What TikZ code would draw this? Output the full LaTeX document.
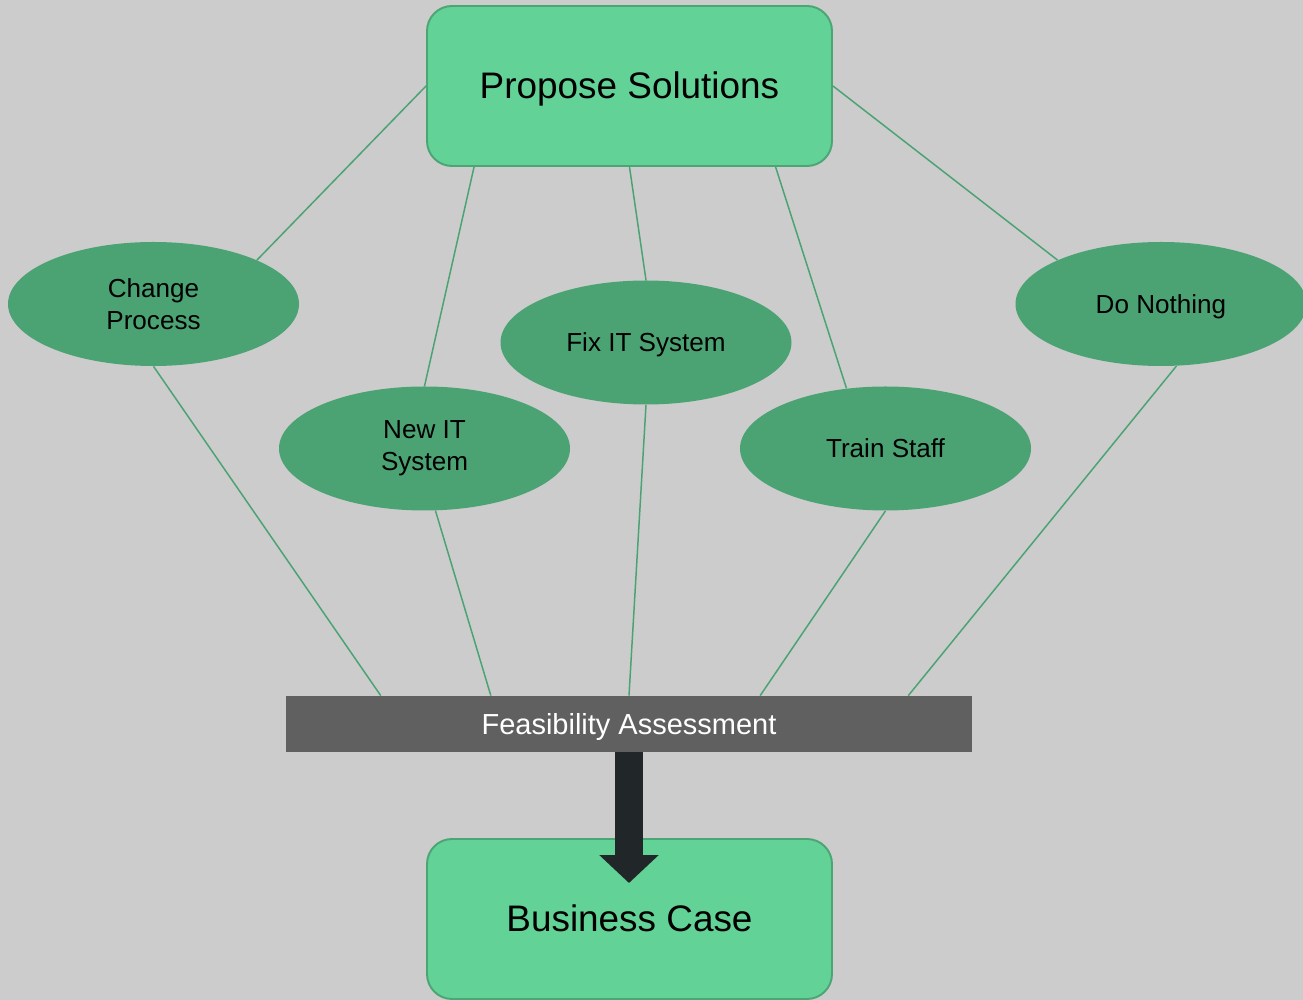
\documentclass[tikz,border=0pt]{standalone}
\usepackage{fontspec}
\setmainfont{Liberation Sans}
\usetikzlibrary{shapes.geometric, arrows.meta, calc}
\definecolor{bggray}{HTML}{CCCCCC}
\definecolor{boxgreen}{HTML}{62D296}
\definecolor{boxedge}{HTML}{4BA574}
\definecolor{ovalgreen}{HTML}{4BA374}
\definecolor{bargray}{HTML}{606060}
\definecolor{arrowdark}{HTML}{212628}

\begin{document}
\begin{tikzpicture}[
        bigbox/.style={draw=boxedge, fill=boxgreen, line width=1.1pt, rounded corners=0.5cm,
            minimum width=8.1cm, minimum height=3.2cm, text height=15pt, text depth=0.3pt,
            font=\fontsize{21}{25}\selectfont},
        solution/.style={ellipse, fill=ovalgreen, minimum width=5.82cm, minimum height=2.48cm,
            inner sep=0pt, align=center, font=\fontsize{14.85}{18}\selectfont},
        oneline/.style={text height=10.6pt, text depth=0.2pt},
        link/.style={ovalgreen, line width=0.85pt}
    ]
        \fill[bggray] (0,0) rectangle (26.06,20);
        \useasboundingbox (0,0) rectangle (26.06,20);

        \node[bigbox] (ps) at (12.59,18.28) {Propose Solutions};
        \node[bigbox] (bc) at (12.59,1.62) {Business Case};
        \node[fill=bargray, text=white, minimum width=13.72cm, minimum height=1.12cm, inner sep=0pt,
            text height=12pt, text depth=0.4pt, font=\fontsize{16.5}{20}\selectfont]
            (fa) at (12.58,5.52) {Feasibility Assessment};

        \node[solution] (cp) at (3.07,13.92) {Change\\Process};
        \node[solution] (ni) at (8.49,11.03) {New IT\\System};
        \node[solution, oneline] (fi) at (12.92,13.15) {Fix IT System};
        \node[solution, oneline] (ts) at (17.71,11.03) {Train Staff};
        \node[solution, oneline] (dn) at (23.22,13.92) {Do Nothing};
        \coordinate (tip) at (12.58,2.34);

        \draw[link] (ps.west) -- (cp.23);
        \draw[link] ($(ps.south west)!0.118!(ps.south east)$) -- (ni.north);
        \draw[link] (ps.south) -- (fi.north);
        \draw[link] (ps.-29) -- (ts.123);
        \draw[link] (ps.east) -- (dn.157);

        \draw[link] (cp.south) -- ($(fa.north west)!0.1385!(fa.north east)$);
        \draw[link] (ni.-80) -- ($(fa.north west)!0.2988!(fa.north east)$);
        \draw[link] (fi.south) -- (fa.north);
        \draw[link] (ts.south) -- ($(fa.north west)!0.691!(fa.north east)$);
        \draw[link] (dn.-76) -- ($(fa.north west)!0.9067!(fa.north east)$);

        \draw[arrowdark, line width=15.9pt, -{Triangle[length=15.9pt, width=32.9pt]}]
            (fa.south) -- (tip);
    \end{tikzpicture}
\end{document}
